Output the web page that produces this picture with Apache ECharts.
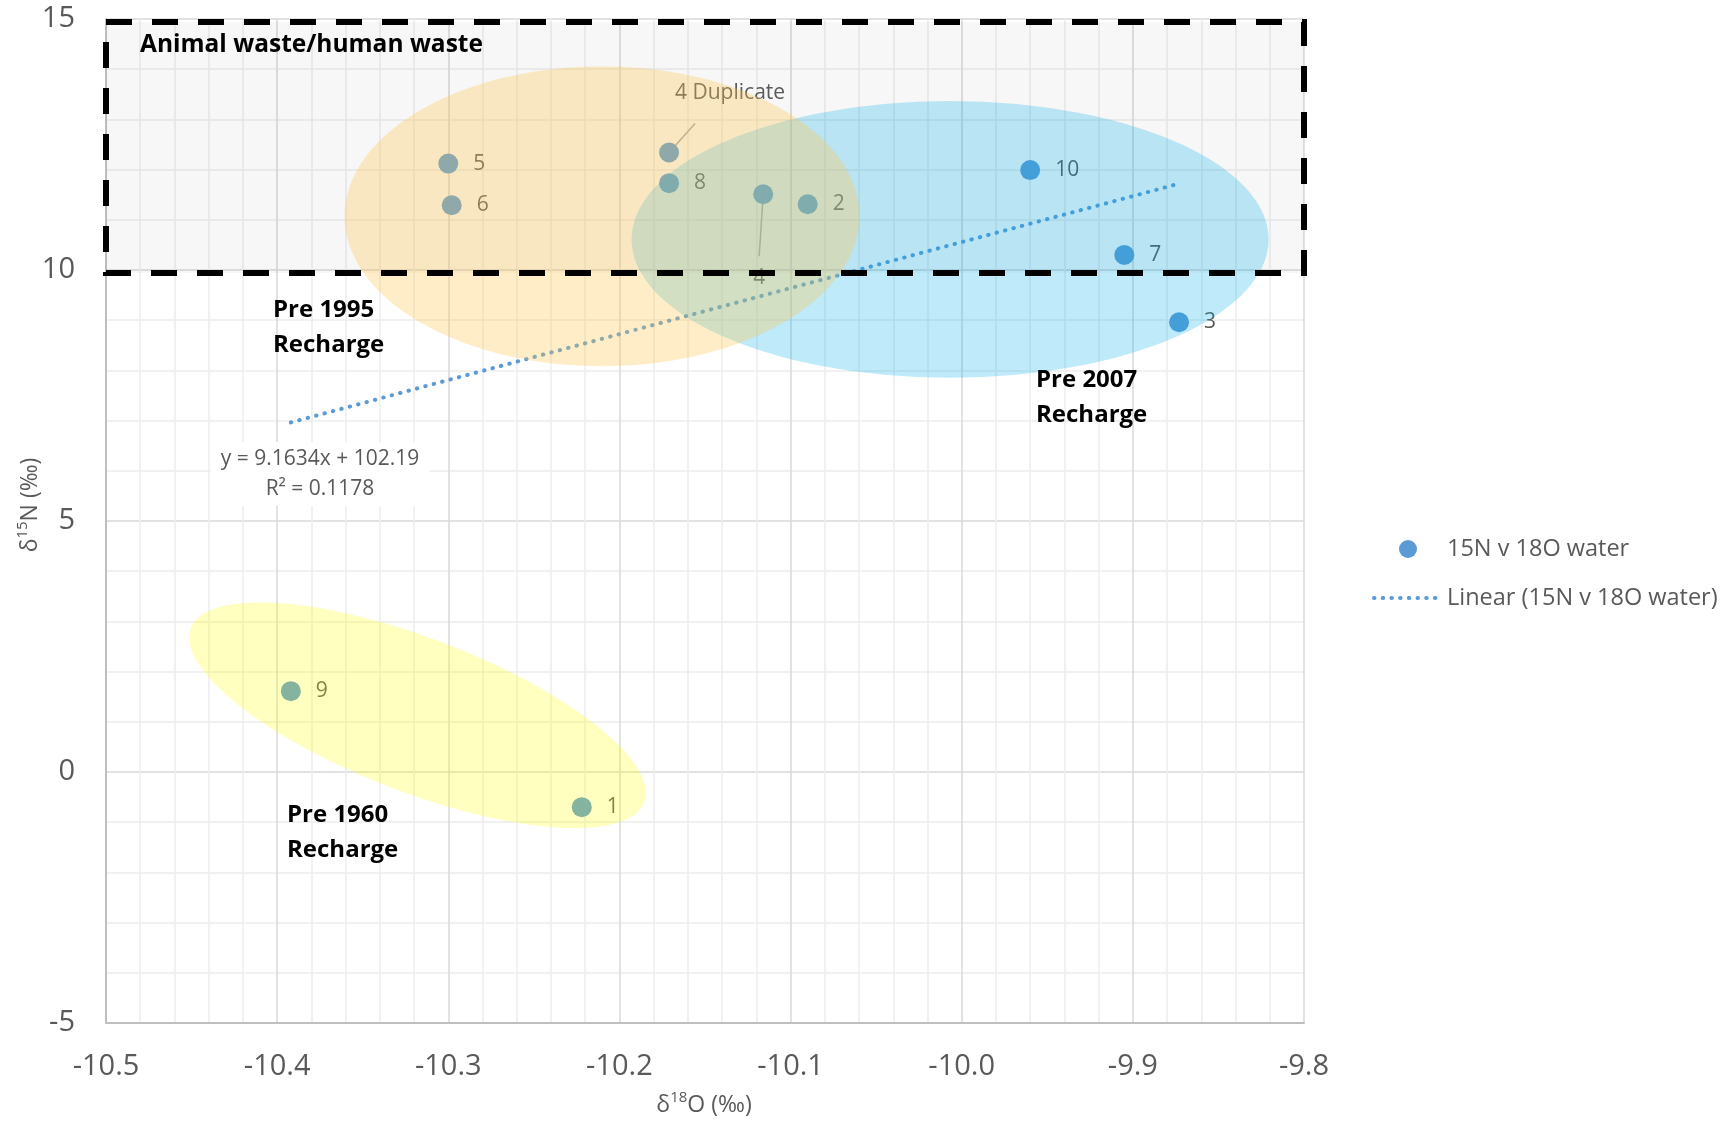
<!DOCTYPE html>
<html>
<head>
<meta charset="utf-8">
<script src="https://cdn.jsdelivr.net/npm/echarts@6/dist/echarts.min.js"></script>
<style>
html,body{margin:0;padding:0;background:#fff;}
#chart{width:1729px;height:1124px;}
</style>
</head>
<body>
<div id="chart"></div>
<script>
// ---------- data ----------
const xTickLabels = ['-10.5','-10.4','-10.3','-10.2','-10.1','-10.0','-9.9','-9.8'];
const yTickLabels = ['-5','0','5','10','15'];

const sampleIds = ['5','6','4 Duplicate','8','4','2','10','7','3','9','1'];
const d18O = [-10.300, -10.298, -10.171, -10.171, -10.116, -10.090, -9.960, -9.905, -9.873, -10.392, -10.222];
const d15N = [12.12, 11.29, 12.34, 11.73, 11.51, 11.31, 11.99, 10.30, 8.96, 1.61, -0.70];

// trendline as printed on the chart
const trendSlope = 9.1634;
const trendIntercept = 102.19;
const trendR2 = '0.1178';

// recharge-zone ellipses (centre x, centre y, x-radius [x units], y-radius [y units], tilt deg)
const zoneNames = ['Pre 2007', 'Pre 1995', 'Pre 1960'];
const zoneCx = [-10.0068, -10.2102, -10.318];
const zoneCy = [10.61, 11.07, 1.13];
const zoneRx = [0.1861, 0.1504, 0.1419];
const zoneRy = [2.755, 2.986, 1.531];
const zoneTilt = [0, 0, 21];

// animal-waste box (y range)
const wasteBoxTop = 14.94;
const wasteBoxBottom = 9.94;

// ---------- chart ----------
const X_MIN = parseFloat(xTickLabels[0]);
const X_MAX = parseFloat(xTickLabels[xTickLabels.length - 1]);
const Y_MIN = parseFloat(yTickLabels[0]);
const Y_MAX = parseFloat(yTickLabels[yTickLabels.length - 1]);
const FONT = '"Open Sans", "Noto Sans", sans-serif';
const GREY = '#595959';
const BLUE = '#5b9bd5';
const zoneFill = ['rgba(0,170,230,0.25)', 'rgba(255,200,80,0.32)', 'rgba(255,255,0,0.25)'];
const trendLineStyle = { color: BLUE, width: 4, type: [0.5, 8.2], cap: 'round' };

const scatterData = sampleIds.map((id, i) => ({ name: id, value: [d18O[i], d15N[i]] }));

const xLo = Math.min.apply(null, d18O);
const xHi = Math.max.apply(null, d18O);
const trendData = [[xLo, trendSlope * xLo + trendIntercept], [xHi, trendSlope * xHi + trendIntercept]];

const zoneData = zoneNames.map((n, i) => ({ name: n, value: [zoneCx[i], zoneCy[i], zoneRx[i], zoneRy[i], zoneTilt[i]] }));

// label placement (pixel offsets from the point centre) and leader line ends
const labelOffsets = { '4 Duplicate': [61, -60], '4': [-4, 84] };
const leaderEnds = { '4 Duplicate': [26, -29], '4': [-4, 62] };
const leaderData = sampleIds.map((id, i) => ({ name: id, value: [d18O[i], d15N[i]] })).filter(d => leaderEnds[d.name]);

const boxData = [[X_MIN, wasteBoxTop, X_MAX, wasteBoxBottom]];

function boxRect(api) {
  const p1 = api.coord([api.value(0), api.value(1)]);
  const p2 = api.coord([api.value(2), api.value(3)]);
  return { x: p1[0], y: p1[1], width: p2[0] - p1[0], height: p2[1] - p1[1] };
}

const chart = echarts.init(document.getElementById('chart'), null, { renderer: 'canvas' });

const option = {
  backgroundColor: '#ffffff',
  animation: false,
  textStyle: { fontFamily: FONT },
  grid: { left: 106, right: 425, top: 19, bottom: 101 },
  legend: {
    data: [
      { name: '15N v 18O water' },
      { name: 'Linear (15N v 18O water)', itemStyle: { color: 'rgba(0,0,0,0)', borderColor: 'rgba(0,0,0,0)', borderWidth: 0 }, lineStyle: trendLineStyle }
    ],
    orient: 'vertical',
    left: 1367,
    top: 532,
    itemWidth: 68,
    itemHeight: 18,
    itemGap: 25,
    textStyle: { fontSize: 23.5, color: GREY, fontFamily: FONT }
  },
  xAxis: {
    type: 'value',
    min: X_MIN,
    max: X_MAX,
    interval: 0.1,
    axisLine: { show: true, onZero: false, lineStyle: { color: '#bfbfbf', width: 2 } },
    axisTick: { show: false },
    minorTick: { show: false, splitNumber: 5 },
    axisLabel: {
      fontSize: 29, color: GREY, fontFamily: FONT, margin: 29,
      formatter: v => xTickLabels[Math.round((v - X_MIN) / 0.1)]
    },
    splitLine: { show: true, lineStyle: { color: '#d9d9d9', width: 1.5 } },
    minorSplitLine: { show: true, lineStyle: { color: '#ededed', width: 1.5 } }
  },
  yAxis: {
    type: 'value',
    min: Y_MIN,
    max: Y_MAX,
    interval: 5,
    axisLine: { show: true, onZero: false, lineStyle: { color: '#bfbfbf', width: 2 } },
    axisTick: { show: false },
    minorTick: { show: false, splitNumber: 5 },
    axisLabel: {
      fontSize: 29, color: GREY, fontFamily: FONT, margin: 31,
      formatter: v => yTickLabels[Math.round((v - Y_MIN) / 5)]
    },
    splitLine: { show: true, lineStyle: { color: '#d9d9d9', width: 1.5 } },
    minorSplitLine: { show: true, lineStyle: { color: '#ededed', width: 1.5 } }
  },
  series: [
    {
      name: 'wastebox-fill',
      type: 'custom',
      z: 1,
      silent: true,
      clip: false,
      data: boxData,
      encode: { x: [0, 2], y: [1, 3] },
      renderItem: function (params, api) {
        return { type: 'rect', shape: boxRect(api), style: { fill: 'rgba(0,0,0,0.03)', stroke: null } };
      }
    },
    {
      name: 'Linear (15N v 18O water)',
      type: 'line',
      z: 2,
      data: trendData,
      symbol: 'none',
      silent: true,
      lineStyle: trendLineStyle,
      itemStyle: { color: BLUE }
    },
    {
      name: 'leaders',
      type: 'custom',
      z: 2,
      silent: true,
      data: leaderData,
      encode: { x: 0, y: 1 },
      renderItem: function (params, api) {
        const c = api.coord([api.value(0), api.value(1)]);
        const e = leaderEnds[leaderData[params.dataIndex].name];
        return { type: 'line', shape: { x1: c[0], y1: c[1], x2: c[0] + e[0], y2: c[1] + e[1] }, style: { stroke: '#a6a6a6', lineWidth: 1.5 } };
      }
    },
    {
      name: '15N v 18O water',
      type: 'scatter',
      z: 2,
      data: scatterData,
      symbol: 'circle',
      symbolSize: 20,
      itemStyle: { color: BLUE, opacity: 1 },
      label: {
        show: true, position: 'right', distance: 15,
        formatter: '{b}', fontSize: 21, color: GREY, fontFamily: FONT
      },
      labelLayout: function (p) {
        const id = sampleIds[p.dataIndex];
        const off = labelOffsets[id];
        if (!off) return {};
        const cx = p.rect.x + p.rect.width / 2;
        const cy = p.rect.y + p.rect.height / 2;
        const lx = p.labelRect.x + p.labelRect.width / 2;
        const ly = p.labelRect.y + p.labelRect.height / 2;
        return { dx: cx + off[0] - lx, dy: cy + off[1] - ly };
      }
    },
    {
      name: 'zones',
      type: 'custom',
      z: 3,
      silent: true,
      data: zoneData,
      encode: { x: 0, y: 1 },
      renderItem: function (params, api) {
        const c = api.coord([api.value(0), api.value(1)]);
        const rx = api.size([api.value(2), 0])[0];
        const ry = api.size([0, api.value(3)])[1];
        const th = api.value(4) * Math.PI / 180;
        const pts = [];
        for (let k = 0; k < 180; k++) {
          const t = k / 180 * Math.PI * 2;
          const ex = rx * Math.cos(t), ey = ry * Math.sin(t);
          pts.push([c[0] + ex * Math.cos(th) - ey * Math.sin(th), c[1] + ex * Math.sin(th) + ey * Math.cos(th)]);
        }
        return { type: 'polygon', shape: { points: pts }, style: { fill: zoneFill[params.dataIndex] } };
      }
    },
    {
      name: 'wastebox-border',
      type: 'custom',
      z: 5,
      silent: true,
      clip: false,
      data: boxData,
      encode: { x: [0, 2], y: [1, 3] },
      renderItem: function (params, api) {
        return { type: 'rect', shape: boxRect(api), style: { fill: 'none', stroke: '#000', lineWidth: 6, lineDash: [26, 20] } };
      }
    }
  ],
  graphic: [
    { type: 'text', z: 100, x: 140, y: 45, style: { text: 'Animal waste/human waste', fontSize: 24.5, fontWeight: 'bold', fontFamily: FONT, fill: '#000', verticalAlign: 'middle' } },
    { type: 'text', z: 100, x: 273, y: 328, style: { text: 'Pre 1995\nRecharge', fontSize: 24, fontWeight: 'bold', fontFamily: FONT, fill: '#000', lineHeight: 35, verticalAlign: 'middle' } },
    { type: 'text', z: 100, x: 1036, y: 398, style: { text: 'Pre 2007\nRecharge', fontSize: 24, fontWeight: 'bold', fontFamily: FONT, fill: '#000', lineHeight: 35, verticalAlign: 'middle' } },
    { type: 'text', z: 100, x: 287, y: 833, style: { text: 'Pre 1960\nRecharge', fontSize: 24, fontWeight: 'bold', fontFamily: FONT, fill: '#000', lineHeight: 35, verticalAlign: 'middle' } },
    { type: 'text', z: 100, x: 320, y: 474, style: {
        text: 'y = ' + trendSlope + 'x + ' + trendIntercept + '\nR² = ' + trendR2,
        fontSize: 21, fontFamily: FONT, fill: GREY, lineHeight: 30, align: 'center', verticalAlign: 'middle',
        backgroundColor: '#ffffff', padding: [2, 10] } },
    { type: 'text', z: 100, x: 704, y: 1105, style: {
        text: '{a|δ}{s|18}{a|O (‰)}', align: 'center', verticalAlign: 'middle',
        rich: { a: { fontSize: 23, fontFamily: FONT, fill: GREY, lineHeight: 30 }, s: { fontSize: 15, fontFamily: FONT, fill: GREY, lineHeight: 20, verticalAlign: 'top' } } } },
    { type: 'text', z: 100, x: 30, y: 505, rotation: Math.PI / 2, style: {
        text: '{a|δ}{s|15}{a|N (‰)}', align: 'center', verticalAlign: 'middle',
        rich: { a: { fontSize: 23, fontFamily: FONT, fill: GREY, lineHeight: 30 }, s: { fontSize: 15, fontFamily: FONT, fill: GREY, lineHeight: 20, verticalAlign: 'top' } } } }
  ]
};
chart.setOption(option);
</script>
</body>
</html>
